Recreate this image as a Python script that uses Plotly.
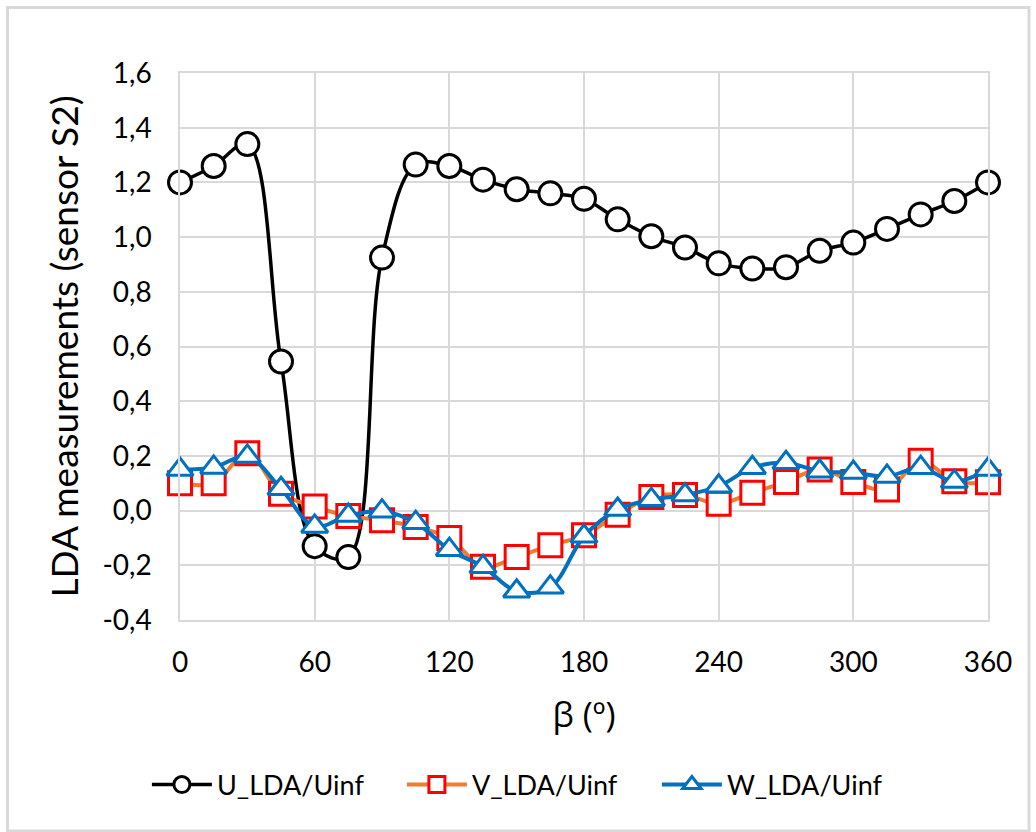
import plotly.graph_objects as go

# Angular positions of the sensor (degrees)
beta = [0, 15, 30, 45, 60, 75, 90, 105, 120, 135, 150, 165, 180,
        195, 210, 225, 240, 255, 270, 285, 300, 315, 330, 345, 360]

# Normalised LDA velocity components
u_lda = [1.20, 1.26, 1.34, 0.545, -0.13, -0.17, 0.925, 1.265, 1.26, 1.21, 1.175, 1.16, 1.14,
         1.065, 1.003, 0.962, 0.904, 0.885, 0.89, 0.95, 0.98, 1.03, 1.083, 1.132, 1.20]
v_lda = [0.10, 0.10, 0.21, 0.062, 0.015, -0.02, -0.035, -0.06, -0.10, -0.205, -0.17, -0.127, -0.09,
         -0.015, 0.05, 0.057, 0.025, 0.065, 0.105, 0.15, 0.105, 0.077, 0.182, 0.107, 0.104]
w_lda = [0.15, 0.158, 0.198, 0.08, -0.058, -0.018, -0.002, -0.044, -0.143, -0.205, -0.295, -0.28, -0.094,
         0.004, 0.04, 0.057, 0.089, 0.157, 0.175, 0.144, 0.139, 0.125, 0.157, 0.106, 0.15]

x_ticks = [0, 60, 120, 180, 240, 300, 360]
y_ticks = [-0.4, -0.2, 0.0, 0.2, 0.4, 0.6, 0.8, 1.0, 1.2, 1.4, 1.6]
y_tick_text = ["-0,4", "-0,2", "0,0", "0,2", "0,4", "0,6", "0,8", "1,0", "1,2", "1,4", "1,6"]

FONT = "Lato"
GRID = "#D9D9D9"

fig = go.Figure()

fig.add_trace(go.Scatter(
    x=beta, y=u_lda, name="U_LDA/Uinf", mode="lines+markers",
    line=dict(color="#000000", width=3.5, shape="spline", smoothing=1),
    marker=dict(symbol="circle", size=23, color="#FFFFFF",
                line=dict(color="#000000", width=3)),
    cliponaxis=False,
))
fig.add_trace(go.Scatter(
    x=beta, y=v_lda, name="V_LDA/Uinf", mode="lines+markers",
    line=dict(color="#ED7D31", width=4, shape="spline", smoothing=1),
    marker=dict(symbol="square", size=23, color="#FFFFFF",
                line=dict(color="#FF0000", width=3)),
    cliponaxis=False,
))
fig.add_trace(go.Scatter(
    x=beta, y=w_lda, name="W_LDA/Uinf", mode="lines+markers",
    line=dict(color="#0070C0", width=4, shape="spline", smoothing=1),
    marker=dict(symbol="triangle-up", size=23, color="#FFFFFF",
                line=dict(color="#0070C0", width=3)),
    cliponaxis=False,
))

fig.update_xaxes(
    range=[0, 360], tickvals=x_ticks, ticks="",
    showgrid=True, gridcolor=GRID, gridwidth=1.5,
    showline=True, linecolor=GRID, linewidth=1.5, mirror=True,
    zeroline=False, ticklabelstandoff=17,
    tickfont=dict(family=FONT, size=28, color="#000000"),
    title=dict(text="β (º)", font=dict(family="Open Sans", size=34, color="#000000"), standoff=26),
)
fig.update_yaxes(
    range=[-0.4, 1.6], tickvals=y_ticks, ticktext=y_tick_text, ticks="",
    showgrid=True, gridcolor=GRID, gridwidth=1.5,
    showline=True, linecolor=GRID, linewidth=1.5, mirror=True,
    zeroline=False, ticklabelstandoff=21,
    tickfont=dict(family=FONT, size=28, color="#000000"),
    title=dict(text="LDA measurements (sensor S2)",
               font=dict(family=FONT, size=37, color="#000000"), standoff=12),
)

# Chart-area frame
fig.add_shape(type="rect", xref="paper", yref="paper",
              x0=(7.5 - 180) / 808, x1=(1029 - 180) / 808,
              y0=(620 - 831) / 547, y1=(620 - 7.5) / 547,
              line=dict(color=GRID, width=3), fillcolor="rgba(0,0,0,0)", layer="below")

fig.update_layout(
    width=1036, height=832,
    margin=dict(l=180, r=48, t=73, b=212, autoexpand=False),
    plot_bgcolor="#FFFFFF", paper_bgcolor="#FFFFFF",
    font=dict(family=FONT, color="#000000"),
    showlegend=True,
    legend=dict(orientation="h", xref="container", yref="container",
                x=0.511, xanchor="center", y=1 - 785 / 832, yanchor="middle",
                font=dict(family=FONT, size=27, color="#000000"),
                itemwidth=60, entrywidth=180, tracegroupgap=0),
)

fig.write_html("out.html")
